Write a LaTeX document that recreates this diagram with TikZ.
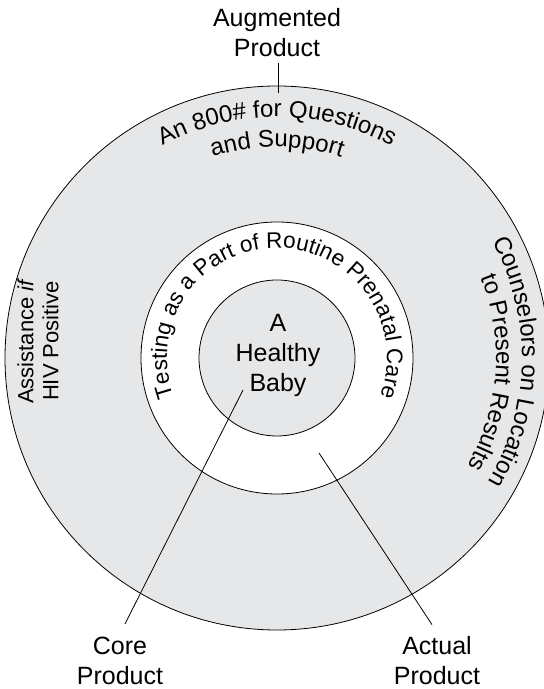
\documentclass[tikz,border=0pt]{standalone}
\usepackage{fontspec}
\setmainfont{Liberation Sans}
\usetikzlibrary{calc,decorations.text}
\definecolor{ringgray}{HTML}{E6E7E8}
\newcommand\lblfont{\fontsize{25}{30}\selectfont}
\newcommand\arcfont{\fontsize{24}{28}\selectfont}
\newcommand\ringfont{\fontsize{22.5}{26}\selectfont}
\newcommand\sidefont{\fontsize{22}{25}\selectfont}
\tikzset{
  lbl/.style={font=\lblfont,align=center,inner sep=0pt},
  ring/.style={draw=black,line width=0.8pt},
  leader/.style={line width=0.8pt},
}
\begin{document}
\begin{tikzpicture}[x=1pt,y=1pt]
\useasboundingbox (0,0) rectangle (544,689);
\clip (0,0) rectangle (544,689);
\coordinate (O) at (277,331);
%circles
\draw[ring,fill=ringgray] (O) circle[radius=272];
\draw[ring,fill=white] (O) circle[radius=136];
\draw[ring,fill=ringgray] (O) circle[radius=78];
%augmented product texts
\path[decorate,decoration={text along path,text align=center,
  text={|\arcfont|An 800{\#} for Questions}}]
  ($(O)+(160:241)$) arc[start angle=160,end angle=20,radius=241];
\path[decorate,decoration={text along path,text align=center,
  text={|\arcfont|and Support}}]
  ($(O)+(150:211)$) arc[start angle=150,end angle=30,radius=211];
\path[decorate,decoration={text along path,text align=center,
  text={|\arcfont|Counselors on Location}}]
  ($(O)+(59:245)$) arc[start angle=59,end angle=-61,radius=245];
\path[decorate,decoration={text along path,text align=center,
  text={|\arcfont|to Present Results}}]
  ($(O)+(56:219)$) arc[start angle=56,end angle=-64,radius=219];
\node[font=\sidefont,align=center,inner sep=0pt,rotate=90] (assist) at (38,348)
  {Assistance \textit{if}\\HIV Positive};
%actual product text
\path[decorate,decoration={text along path,text align=center,
  text={|\ringfont|Testing as a Part of Routine Prenatal Care}}]
  ($(O)+(230:110)$) arc[start angle=230,end angle=-50,radius=110];
%core
\node[lbl] (baby) at (278,334) {A\\Healthy\\Baby};
%labels
\node[lbl] (augm) at (277,656) {Augmented\\Product};
\node[lbl] (core) at (120,28) {Core\\Product};
\node[lbl] (actual) at (437,28) {Actual\\Product};
\coordinate (augtip) at (278,596);
\coordinate (coretip) at (243,299);
\coordinate (acttip) at (319,236);
\draw[leader] (augm.south) ++(1,-6) -- (augtip);
\draw[leader] (core.north) ++(5,13) -- (coretip);
\draw[leader] (actual.north) ++(-5,12) -- (acttip);
\end{tikzpicture}
\end{document}
